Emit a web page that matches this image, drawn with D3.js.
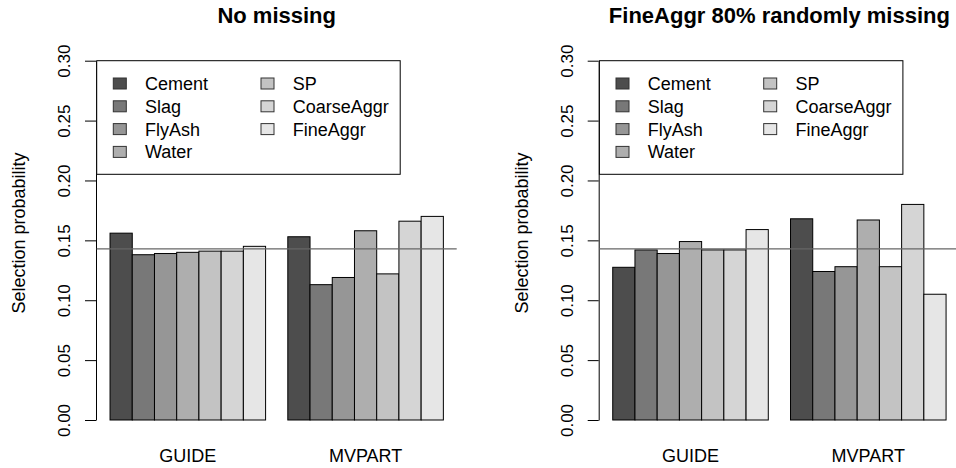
<!DOCTYPE html>
<html>
<head>
<meta charset="utf-8">
<script src="https://cdn.jsdelivr.net/npm/d3@7"></script>
<style>
  body { margin: 0; background: #fff; }
  svg { display: block; font-family: "Liberation Sans", Arial, sans-serif; }
</style>
</head>
<body>
<svg></svg>
<script>
const width = 956;
const height = 468;

// data
const variables = ["Cement", "Slag", "FlyAsh", "Water", "SP", "CoarseAggr", "FineAggr"];
const methods = ["GUIDE", "MVPART"];
const noMissingGuide = [0.156, 0.138, 0.139, 0.140, 0.141, 0.141, 0.145];
const noMissingMvpart = [0.153, 0.113, 0.119, 0.158, 0.122, 0.166, 0.170];
const fineMissingGuide = [0.1275, 0.142, 0.139, 0.149, 0.142, 0.142, 0.159];
const fineMissingMvpart = [0.168, 0.124, 0.128, 0.167, 0.128, 0.180, 0.105];
const yTicks = [0, 0.05, 0.10, 0.15, 0.20, 0.25, 0.30];
const reference = 1 / 7;
const titles = ["No missing", "FineAggr 80% randomly missing"];

const greys = ["#4d4d4d", "#787878", "#969696", "#aeaeae", "#c3c3c3", "#d5d5d5", "#e6e6e6"];

const svg = d3.select("svg")
    .attr("width", width)
    .attr("height", height);

const panels = [
    {left: 96.7, title: titles[0], values: [noMissingGuide, noMissingMvpart]},
    {left: 599.4, title: titles[1], values: [fineMissingGuide, fineMissingMvpart]}
];

const y = d3.scaleLinear().domain([0, 0.30]).range([420, 60.7]);

panels.forEach(p => {
    const g = svg.append("g");
    // R barplot style units: bar width 1, group gap 1
    const x = d3.scaleLinear().domain([0.4, 16.6]).range([p.left, p.left + 360]);

    // title
    g.append("text")
        .attr("x", (x(0.4) + x(16.6)) / 2)
        .attr("y", 23)
        .attr("text-anchor", "middle")
        .attr("font-weight", "bold")
        .attr("font-size", 22)
        .text(p.title);

    // y axis
    const axis = g.append("g")
        .attr("transform", `translate(${p.left - 0.7},0)`)
        .call(d3.axisLeft(y).tickValues(yTicks).tickFormat(d3.format(".2f")).tickSize(11).tickSizeOuter(0));
    axis.select(".domain").attr("stroke", "#000");
    axis.selectAll(".tick line").attr("stroke", "#000");
    axis.selectAll(".tick text")
        .attr("font-family", "Liberation Sans, Arial, sans-serif")
        .attr("font-size", 17)
        .attr("fill", "#000")
        .attr("x", null).attr("dy", null)
        .attr("text-anchor", "middle")
        .attr("transform", "translate(-26,0) rotate(-90)");

    g.append("text")
        .attr("transform", `translate(${p.left - 71.7},${233}) rotate(-90)`)
        .attr("text-anchor", "middle")
        .attr("font-size", 18)
        .text("Selection probability");

    // bars
    const bars = [];
    p.values.forEach((vals, gi) => {
        vals.forEach((v, i) => bars.push({g: gi, i: i, v: v}));
    });
    g.selectAll("rect.bar")
        .data(bars)
        .enter().append("rect")
        .attr("class", "bar")
        .attr("x", d => x(1 + d.g * 8 + d.i))
        .attr("width", d => x(2) - x(1))
        .attr("y", d => y(d.v))
        .attr("height", d => y(0) - y(d.v))
        .attr("fill", d => greys[d.i])
        .attr("stroke", "#000")
        .attr("stroke-width", 1);

    // group labels
    g.selectAll("text.grp")
        .data(methods)
        .enter().append("text")
        .attr("class", "grp")
        .attr("x", (d, gi) => x(1 + gi * 8 + 3.5))
        .attr("y", 462)
        .attr("text-anchor", "middle")
        .attr("font-size", 18)
        .text(d => d);

    // reference line 1/7
    g.append("line")
        .attr("x1", x(0.4)).attr("x2", x(16.6))
        .attr("y1", y(reference)).attr("y2", y(reference))
        .attr("stroke", "#666")
        .attr("stroke-width", 1.3);

    // legend
    const lg = g.append("g").attr("transform", `translate(${p.left},${y(0.30)})`);
    lg.append("rect")
        .attr("x", 0).attr("y", 0)
        .attr("width", 303.5).attr("height", 113.6)
        .attr("fill", "#fff")
        .attr("stroke", "#000");
    const items = lg.selectAll("g.item")
        .data(variables)
        .enter().append("g")
        .attr("class", "item")
        .attr("transform", (d, i) => `translate(${i < 4 ? 16.6 : 164.3},${22.8 + (i % 4) * 22.8})`);
    items.append("rect")
        .attr("x", 0).attr("y", -5.5)
        .attr("width", 13).attr("height", 11)
        .attr("fill", (d, i) => greys[i])
        .attr("stroke", "#333");
    items.append("text")
        .attr("x", 31.7)
        .attr("y", 6.5)
        .attr("font-size", 18)
        .text(d => d);
});
</script>
</body>
</html>
